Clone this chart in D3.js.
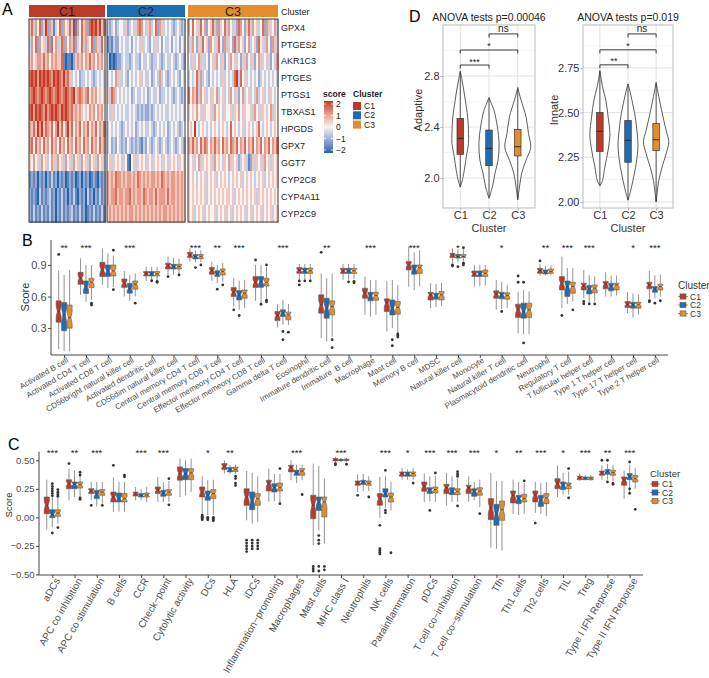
<!DOCTYPE html>
<html><head><meta charset="utf-8">
<script src="https://cdn.jsdelivr.net/npm/d3@7"></script>
<style>body{margin:0;background:#fff} svg{font-family:"Liberation Sans",Arial,sans-serif}</style>
</head><body><svg id="c" width="709" height="678"></svg>
<script>
// ---------------- DATA ----------------
const clusters = ["C1","C2","C3"];
const genes = ["GPX4","PTGES2","AKR1C3","PTGES","PTGS1","TBXAS1","HPGDS","GPX7","GGT7","CYP2C8","CYP4A11","CYP2C9"];
// heatmap z-scores coded as digits 0..8  ->  -2 .. +2 (step 0.5)
const heatC1 = [
"57364725826315472645738164756278786857",
"36472645372746357264637254736547265374",
"56456657564656557101102565646575646564",
"78786878787687876867534342334343234343",
"67876787678767876787678567656746564545",
"78687876867878768787675656545465646564",
"65758685765746857468574657465746574657",
"67475647564756475647564756475647564756",
"54645364534653645364536453645364536453",
"12120212021312021201212012021201210212",
"21210312123120213120213102120312021312",
"21312131213120213121231213120121312131"];
const heatC2 = [
"323423443523435676435634726534343234323",
"121322434334243435343243534243342434243",
"301012234332343324334323343234334323432",
"343463534324343453433423436343234343243",
"537634343434234334342343342334343234323",
"435343434334343232322323434343343434343",
"343434323434342343433432343434234343234",
"342324323243232321324323432343234323432",
"453545435410453545435435454354354543545",
"656576656566565765656566565765656656565",
"656675665667565665765665756665756656565",
"565656565656656565656565656566565656565"];
const heatC3 = [
"647453746245736254736435276425736453472635463",
"536425374526453742635427364524634527453642635",
"435346353424536435243645342536435246354352436",
"343473634324343435343437837453434342343434343",
"746573645343546345343643524634534363453435434",
"545464535445364543544535464354453645354546354",
"454843454343454345434745434534543457434543454",
"657564757646575647564765746574657465746574657",
"545346354545364543546354523453125354536453545",
"545434545345453454543454545345454345453454545",
"545454545345454545455453454545454535454545454",
"545345453454453454534534545453453454534545345"];
const scoreTicks = [2,1,0,-1,-2];

// Panel D : [min, q1, median, q3, max] and violin profiles [value, relative half-width]
const dAdaptive = [[1.93,2.186,2.311,2.468,2.83],[1.85,2.097,2.233,2.376,2.63],[1.83,2.173,2.246,2.382,2.70]];
const dInnate   = [[2.09,2.283,2.395,2.50,2.73],[2.01,2.222,2.345,2.455,2.66],[2.00,2.287,2.348,2.438,2.66]];
const vAdaptive = [
 [[1.93,0],[1.97,0.13],[2.06,0.31],[2.17,0.47],[2.27,0.64],[2.35,0.64],[2.48,0.57],[2.61,0.39],[2.69,0.27],[2.77,0.13],[2.84,0]],
 [[1.84,0],[1.93,0.26],[2.04,0.47],[2.14,0.70],[2.27,0.78],[2.40,0.65],[2.53,0.39],[2.58,0.2],[2.63,0]],
 [[1.83,0],[1.93,0.13],[2.04,0.31],[2.14,0.64],[2.24,1.0],[2.35,0.83],[2.48,0.64],[2.61,0.26],[2.66,0.12],[2.71,0]]];
const vInnate = [
 [[2.09,0],[2.12,0.21],[2.195,0.39],[2.29,0.65],[2.38,0.79],[2.476,0.65],[2.57,0.47],[2.645,0.21],[2.735,0]],
 [[2.01,0],[2.06,0.2],[2.12,0.39],[2.216,0.65],[2.31,0.79],[2.38,0.73],[2.476,0.57],[2.57,0.31],[2.62,0.15],[2.66,0]],
 [[2.0,0],[2.05,0.08],[2.12,0.21],[2.195,0.47],[2.27,0.79],[2.336,1.0],[2.4,0.79],[2.5,0.47],[2.59,0.21],[2.63,0.1],[2.67,0]]];
const dPairs = [["C1","C2"],["C1","C3"],["C2","C3"]];
const dSigAdaptive = ["***","*","ns"];
const dSigInnate = ["**","*","ns"];
const dLevelsAdaptive = [2.886,3.004,3.13];
const dLevelsInnate = [2.767,2.851,2.94];

// Panel B
const bCells = ["Activated B cell","Activated CD4 T cell","Activated CD8 T cell","CD56bright natural killer cell","Activated dendritic cell","CD56dim natural killer cell","Central memory CD4 T cell","Central memory CD8 T cell","Effector memeory CD4 T cell","Effector memeory CD8 T cell","Gamma delta T cell","Eosinophil","Immature dendritic cell","Immature  B cell","Macrophage","Mast cell","Memory B cell","MDSC","Natural killer cell","Monocyte","Natural killer T cell","Plasmacytoid dendritic cell","Neutrophil","Regulatory T cell","T follicular helper cell","Type 1 T helper cell","Type 17 T helper cell","Type 2 T helper cell"];
const bSig = ["**","***","","***","","","***","**","***","","***","","**","","***","","***","","*","","*","","**","***","***","","*","***"];
const bC1 = [[0.10,0.357,0.458,0.559,0.85],[0.616,0.717,0.774,0.83,0.963],[0.71,0.79,0.853,0.925,1.058],[0.6,0.685,0.726,0.767,0.843],[0.748,0.796,0.815,0.837,0.884],[0.80,0.862,0.894,0.916,0.979],[0.93,0.97,0.995,1.02,1.058],[0.75,0.812,0.846,0.875,0.93],[0.505,0.6,0.64,0.685,0.774],[0.56,0.685,0.736,0.79,0.9],[0.306,0.372,0.42,0.458,0.527],[0.758,0.821,0.849,0.875,0.91],[0.205,0.442,0.52,0.616,0.82],[0.76,0.82,0.843,0.868,0.91],[0.426,0.584,0.632,0.679,0.79],[0.268,0.458,0.537,0.578,0.748],[0.695,0.853,0.9,0.932,1.074],[0.49,0.568,0.616,0.64,0.726],[0.916,0.97,0.995,1.01,1.058],[0.695,0.79,0.815,0.843,0.9],[0.474,0.584,0.622,0.654,0.758],[0.25,0.4,0.474,0.527,0.647],[0.8,0.821,0.846,0.868,0.91],[0.49,0.663,0.726,0.79,0.979],[0.584,0.663,0.704,0.726,0.853],[0.6,0.673,0.717,0.742,0.83],[0.442,0.496,0.527,0.553,0.641],[0.58,0.673,0.71,0.736,0.843]];
const bC2 = [[0.08,0.275,0.426,0.543,0.805],[0.55,0.63,0.695,0.748,0.9],[0.68,0.79,0.843,0.9,1.01],[0.559,0.632,0.679,0.726,0.805],[0.76,0.796,0.815,0.837,0.88],[0.805,0.862,0.884,0.906,0.965],[0.925,0.957,0.979,1.0,1.04],[0.726,0.79,0.815,0.846,0.9],[0.474,0.568,0.616,0.657,0.75],[0.537,0.688,0.742,0.79,0.9],[0.332,0.41,0.442,0.474,0.568],[0.76,0.82,0.845,0.87,0.91],[0.174,0.395,0.49,0.584,0.774],[0.76,0.82,0.843,0.868,0.91],[0.41,0.559,0.606,0.64,0.758],[0.3,0.426,0.49,0.568,0.758],[0.66,0.812,0.862,0.9,1.02],[0.5,0.575,0.606,0.632,0.72],[0.925,0.965,0.98,1.0,1.05],[0.7,0.79,0.815,0.843,0.9],[0.48,0.578,0.616,0.641,0.74],[0.24,0.395,0.458,0.537,0.663],[0.8,0.815,0.83,0.853,0.89],[0.53,0.6,0.695,0.748,0.87],[0.537,0.625,0.673,0.704,0.805],[0.6,0.654,0.695,0.726,0.8],[0.4,0.49,0.521,0.546,0.63],[0.58,0.64,0.673,0.695,0.8]];
const bC3 = [[0.08,0.30,0.40,0.52,0.85],[0.57,0.685,0.736,0.774,0.9],[0.69,0.796,0.843,0.9,0.99],[0.6,0.67,0.717,0.748,0.82],[0.755,0.796,0.815,0.837,0.88],[0.81,0.862,0.884,0.906,0.96],[0.93,0.96,0.982,1.0,1.04],[0.74,0.805,0.837,0.862,0.92],[0.49,0.584,0.632,0.663,0.76],[0.58,0.70,0.735,0.774,0.88],[0.33,0.379,0.426,0.452,0.53],[0.76,0.82,0.845,0.87,0.91],[0.22,0.426,0.505,0.559,0.82],[0.765,0.82,0.845,0.868,0.91],[0.426,0.565,0.61,0.64,0.758],[0.25,0.433,0.496,0.553,0.71],[0.695,0.82,0.875,0.9,1.04],[0.51,0.568,0.616,0.648,0.73],[0.93,0.97,0.98,1.0,1.05],[0.705,0.79,0.821,0.852,0.9],[0.49,0.575,0.61,0.635,0.71],[0.245,0.4,0.474,0.537,0.647],[0.805,0.821,0.837,0.862,0.9],[0.555,0.632,0.695,0.736,0.87],[0.553,0.635,0.679,0.71,0.79],[0.61,0.663,0.71,0.726,0.8],[0.43,0.49,0.527,0.546,0.62],[0.6,0.663,0.695,0.717,0.81]];
const bOut = [[0,0,1.0],[1,2,0.537],[1,2,0.52],[2,2,1.04],[2,2,0.665],[3,2,0.537],[4,1,0.75],[4,2,0.736],[4,2,0.745],[5,0,0.79],[5,2,0.805],[6,1,0.875],[6,2,0.9],[7,1,0.67],[7,2,0.71],[8,0,0.474],[8,1,0.42],[9,0,0.947],[9,1,0.527],[9,2,0.9],[9,2,0.565],[9,2,0.55],[10,1,0.268],[10,1,0.19],[10,2,0.262],[11,0,0.748],[11,0,0.71],[11,1,0.748],[11,2,0.748],[12,0,1.02],[12,2,0.19],[12,2,0.115],[13,1,0.74],[13,2,0.73],[13,2,0.745],[15,1,0.19],[15,1,0.133],[15,2,0.245],[15,2,0.23],[15,2,0.215],[18,0,0.9],[18,0,0.89],[18,1,0.884],[18,2,1.064],[18,2,0.916],[18,2,0.9],[20,1,0.458],[21,0,0.795],[21,0,0.736],[21,1,0.736],[21,1,0.16],[22,0,0.938],[23,0,0.42],[23,2,0.474],[24,0,0.553],[24,0,0.531],[24,1,0.53],[24,2,0.53],[27,0,0.56],[27,0,0.55],[27,1,0.537],[27,2,0.56]];

// Panel C
const cCells = ["aDCs","APC co inhibition","APC co stimulation","B cells","CCR","Check\u2212point","Cytolytic activity","DCs","HLA","iDCs","Inflammation\u2212promoting","Macrophages","Mast cells","MHC class I","Neutrophils","NK cells","Parainflammation","pDCs","T cell co\u2212inhibition","T cell co\u2212stimulation","Tfh","Th1 cells","Th2 cells","TIL","Treg","Type I IFN Reponse","Type II IFN Reponse"];
const cSig = ["***","**","***","","***","***","","*","**","","","***","","***","","***","*","***","***","***","*","**","***","*","***","**","***"];
const cC1 = [[-0.108,0.032,0.105,0.178,0.33],[0.149,0.251,0.295,0.33,0.427],[0.15,0.208,0.231,0.251,0.31],[0.047,0.135,0.178,0.222,0.35],[0.15,0.187,0.208,0.222,0.266],[0.135,0.208,0.237,0.266,0.354],[0.178,0.325,0.383,0.442,0.515],[0.032,0.178,0.222,0.266,0.36],[0.383,0.418,0.447,0.471,0.5],[-0.026,0.105,0.178,0.251,0.406],[0.135,0.231,0.295,0.325,0.427],[0.325,0.398,0.436,0.456,0.5],[-0.246,-0.012,0.105,0.193,0.47],[0.48,0.494,0.506,0.515,0.53],[0.222,0.281,0.301,0.319,0.377],[-0.003,0.105,0.164,0.208,0.354],[0.33,0.36,0.383,0.398,0.43],[0.135,0.228,0.272,0.31,0.383],[0.105,0.208,0.26,0.289,0.39],[0.135,0.208,0.26,0.281,0.36],[-0.266,-0.02,0.085,0.164,0.389],[0.03,0.126,0.193,0.231,0.33],[0.04,0.135,0.193,0.231,0.31],[0.178,0.251,0.295,0.339,0.456],[0.32,0.33,0.348,0.36,0.383],[0.33,0.368,0.389,0.406,0.456],[0.164,0.281,0.325,0.354,0.41]];
const cC2 = [[-0.085,-0.003,0.026,0.067,0.18],[0.178,0.251,0.289,0.31,0.412],[0.096,0.164,0.202,0.237,0.31],[0.05,0.135,0.164,0.213,0.31],[0.15,0.178,0.193,0.208,0.25],[0.135,0.184,0.213,0.237,0.31],[0.193,0.33,0.383,0.427,0.5],[0.02,0.149,0.193,0.231,0.325],[0.377,0.398,0.418,0.436,0.46],[-0.056,0.067,0.143,0.222,0.39],[0.14,0.222,0.26,0.295,0.38],[0.3,0.368,0.389,0.412,0.46],[-0.114,0.061,0.135,0.178,0.45],[0.485,0.497,0.502,0.508,0.52],[0.23,0.287,0.31,0.325,0.38],[0.08,0.178,0.208,0.251,0.36],[0.33,0.36,0.38,0.398,0.42],[0.14,0.208,0.237,0.26,0.36],[0.135,0.199,0.228,0.26,0.36],[0.15,0.184,0.228,0.251,0.31],[-0.275,-0.07,0.032,0.114,0.32],[0.02,0.12,0.164,0.193,0.31],[0.03,0.096,0.149,0.193,0.3],[0.2,0.243,0.281,0.31,0.39],[0.325,0.33,0.342,0.354,0.37],[0.33,0.377,0.404,0.418,0.47],[0.22,0.33,0.36,0.383,0.46]];
const cC3 = [[-0.056,0.009,0.038,0.067,0.17],[0.18,0.256,0.286,0.31,0.39],[0.12,0.193,0.222,0.243,0.31],[0.05,0.135,0.164,0.21,0.31],[0.135,0.178,0.196,0.213,0.266],[0.135,0.193,0.222,0.243,0.32],[0.222,0.33,0.389,0.427,0.515],[0.02,0.164,0.208,0.243,0.33],[0.38,0.402,0.42,0.44,0.46],[-0.04,0.105,0.164,0.208,0.36],[0.13,0.231,0.26,0.3,0.38],[0.325,0.368,0.406,0.427,0.46],[-0.23,0.003,0.135,0.178,0.34],[0.485,0.497,0.503,0.51,0.52],[0.23,0.281,0.298,0.319,0.36],[0.06,0.135,0.178,0.213,0.31],[0.33,0.36,0.383,0.398,0.43],[0.135,0.213,0.243,0.266,0.36],[0.135,0.199,0.228,0.251,0.34],[0.09,0.193,0.231,0.26,0.33],[-0.29,-0.026,0.067,0.143,0.32],[0.03,0.135,0.164,0.202,0.3],[0.01,0.12,0.17,0.208,0.31],[0.2,0.251,0.281,0.301,0.4],[0.32,0.33,0.342,0.354,0.37],[0.32,0.368,0.392,0.412,0.46],[0.25,0.31,0.339,0.368,0.43]];
const cOut = [[0,1,0.295],[0,1,0.27],[0,1,0.25],[0,1,0.23],[0,1,0.21],[0,1,0.19],[0,1,-0.137],[0,2,0.243],[0,2,0.22],[0,2,0.2],[0,2,0.185],[0,2,-0.09],[1,0,0.471],[1,2,0.395],[1,2,0.37],[1,2,0.17],[1,2,0.158],[2,0,0.105],[2,2,0.105],[3,0,0.456],[3,2,0.37],[3,2,0.355],[5,2,0.339],[5,2,0.11],[7,0,0.02],[7,0,0.01],[7,0,0.0],[7,0,-0.01],[7,0,-0.02],[7,1,0.0],[7,1,-0.01],[7,1,-0.02],[7,2,0.0],[7,2,-0.01],[7,2,-0.02],[7,2,-0.03],[8,2,0.36],[8,2,0.34],[8,2,0.3],[8,2,0.28],[9,0,-0.2],[9,0,-0.225],[9,0,-0.25],[9,0,-0.275],[9,0,-0.3],[9,1,-0.2],[9,1,-0.225],[9,1,-0.25],[9,1,-0.275],[9,2,-0.2],[9,2,-0.225],[9,2,-0.25],[9,2,-0.275],[10,2,0.427],[10,2,0.12],[11,2,0.2],[12,0,-0.43],[12,0,-0.45],[12,0,-0.47],[12,1,-0.16],[12,1,-0.2],[12,1,-0.23],[12,1,-0.43],[12,1,-0.47],[12,2,-0.43],[12,2,-0.46],[13,0,0.47],[13,0,0.46],[13,2,0.465],[14,0,0.193],[14,2,0.178],[15,0,-0.07],[15,0,-0.275],[15,0,-0.29],[15,0,-0.305],[15,0,-0.32],[15,1,0.412],[15,1,0.061],[15,1,0.04],[15,2,-0.31],[16,2,0.30],[17,1,0.061],[17,2,0.389],[18,2,0.4],[18,2,0.38],[18,2,0.36],[18,2,0.1],[19,2,0.032],[21,2,0.32],[22,0,-0.05],[23,2,0.427],[23,2,0.17],[25,0,0.5],[25,1,0.5],[25,1,0.31],[25,2,0.3],[25,2,0.29],[26,1,0.485],[26,1,0.25],[26,1,0.21],[26,2,0.07]];

// ---------------- STYLE ----------------
const colors = ["#BD3A2B","#1E6DB2","#E48D2D"];
const txt = "#333";
const svg = d3.select("#c");
function label(x,y,t,size,opts={}){
  const e = svg.append("text").attr("x",x).attr("y",y).attr("font-size",size).attr("fill",opts.fill||txt).text(t);
  if(opts.anchor) e.attr("text-anchor",opts.anchor);
  if(opts.weight) e.attr("font-weight",opts.weight);
  if(opts.rotate!==undefined) e.attr("transform",`rotate(${opts.rotate},${x},${y})`);
  return e;
}

// ---------------- PANEL A : heatmap ----------------
label(2,15,"A",16,{fill:"#000"});
const rowY = d3.scaleBand().domain(genes).range([19,222]);
const heatColor = d3.scaleLinear().domain([-2,0,2]).range(["#1f66ae","#f7f4f3","#c43b2b"]).interpolate(d3.interpolateLab).clamp(true);
const blockX = [[29,105],[107,185],[188,278]];
[heatC1,heatC2,heatC3].forEach((rows,k)=>{
  const n = rows[0].length;
  const colX = d3.scaleBand().domain(d3.range(n)).range(blockX[k]);
  const cells = [];
  rows.forEach((s,r)=>{ for(let j=0;j<s.length;j++) cells.push({g:genes[r],j,v:-2+0.5*(+s[j])}); });
  svg.append("g").attr("shape-rendering","crispEdges").selectAll("rect").data(cells).join("rect")
    .attr("x",d=>colX(d.j)).attr("y",d=>rowY(d.g))
    .attr("width",colX.bandwidth()+0.5).attr("height",rowY.bandwidth()+0.5)
    .attr("fill",d=>heatColor(d.v));
  svg.append("rect").attr("x",blockX[k][0]).attr("y",19).attr("width",blockX[k][1]-blockX[k][0]).attr("height",203)
    .attr("fill","none").attr("stroke","#3a3a3a").attr("stroke-width",1);
  svg.append("rect").attr("x",blockX[k][0]).attr("y",5).attr("width",blockX[k][1]-blockX[k][0]).attr("height",12).attr("fill",colors[k]);
  label((blockX[k][0]+blockX[k][1])/2,15.5,clusters[k],12.5,{anchor:"middle",fill:"#222"});
});
label(281,14.5,"Cluster",9,{fill:"#222"});
genes.forEach(g=>label(281,rowY(g)+rowY.bandwidth()/2+3.2,g,9,{fill:"#222"}));
// score legend
label(323,97,"score",8.5,{weight:"bold",fill:"#222"});
const defs = svg.append("defs");
const grad = defs.append("linearGradient").attr("id","sg").attr("x1",0).attr("x2",0).attr("y1",0).attr("y2",1);
d3.range(0,1.0001,0.1).forEach(t=>grad.append("stop").attr("offset",t).attr("stop-color",heatColor(2-4*t)));
const legY = d3.scaleLinear().domain([-2,2]).range([150,104]);
svg.append("rect").attr("x",324).attr("y",101).attr("width",9).attr("height",52).attr("fill","url(#sg)");
scoreTicks.forEach(t=>{
  svg.append("line").attr("x1",324).attr("x2",326).attr("y1",legY(t)).attr("y2",legY(t)).attr("stroke","#fff").attr("stroke-width",0.8);
  svg.append("line").attr("x1",331).attr("x2",333).attr("y1",legY(t)).attr("y2",legY(t)).attr("stroke","#fff").attr("stroke-width",0.8);
  label(336,legY(t)+3,t<0?"\u2212"+Math.abs(t):String(t),8.5,{fill:"#222"});
});
label(353,97,"Cluster",8.5,{weight:"bold",fill:"#222"});
clusters.forEach((c,k)=>{
  svg.append("rect").attr("x",353).attr("y",102+k*9.3).attr("width",8).attr("height",8).attr("fill",colors[k]);
  label(364,109+k*9.3,c,8.5,{fill:"#222"});
});

// ---------------- PANEL D : violins ----------------
label(409,22,"D",16,{fill:"#000"});
function violinPanel(x0,x1,domain,ticks,minor,fmt,yTitle,title,stats,prof,sig,levels,titleX){
  const x = d3.scalePoint().domain(clusters).range([x0,x1]).padding(0.6);
  const y = d3.scaleLinear().domain(domain).range([208,25]);
  const g = svg.append("g");
  minor.forEach(v=>g.append("line").attr("x1",x0).attr("x2",x1).attr("y1",y(v)).attr("y2",y(v)).attr("stroke","#efefef").attr("stroke-width",0.6));
  ticks.forEach(v=>g.append("line").attr("x1",x0).attr("x2",x1).attr("y1",y(v)).attr("y2",y(v)).attr("stroke","#dedede").attr("stroke-width",0.9));
  clusters.forEach(c=>g.append("line").attr("x1",x(c)).attr("x2",x(c)).attr("y1",25).attr("y2",208).attr("stroke","#dedede").attr("stroke-width",0.9));
  g.append("rect").attr("x",x0).attr("y",25).attr("width",x1-x0).attr("height",183).attr("fill","none").attr("stroke","#b3b3b3").attr("stroke-width",0.9);
  const ax = svg.append("g").attr("transform",`translate(${x0},0)`).call(d3.axisLeft(y).tickValues(ticks).tickSize(2.5).tickFormat(fmt));
  ax.select(".domain").remove();
  ax.selectAll("line").attr("stroke","#b3b3b3");
  ax.selectAll("text").attr("font-size",11).attr("fill",txt).attr("font-family","Liberation Sans, Arial, sans-serif").attr("x",-3.5);
  const axb = svg.append("g").attr("transform","translate(0,208)").call(d3.axisBottom(x).tickSize(2.5));
  axb.select(".domain").remove();
  axb.selectAll("line").attr("stroke","#b3b3b3");
  axb.selectAll("text").attr("font-size",11).attr("fill",txt).attr("font-family","Liberation Sans, Arial, sans-serif").attr("y",3).attr("dy","0.71em");
  label((x0+x1)/2,232,"Cluster",11,{anchor:"middle"});
  label(titleX,110,yTitle,11,{anchor:"middle",rotate:-90});
  label((x0+x1)/2,21,title,10.5,{anchor:"middle",fill:"#222"});
  const hw = 0.45*x.step();
  clusters.forEach((c,k)=>{
    const cx = x(c);
    const area = d3.area().y(d=>y(d[0])).x0(d=>cx-d[1]*hw).x1(d=>cx+d[1]*hw).curve(d3.curveCatmullRom);
    g.append("path").attr("d",area(prof[k])).attr("fill","#fff").attr("stroke","#4a4a4a").attr("stroke-width",0.9);
    const s = stats[k];
    g.append("line").attr("x1",cx).attr("x2",cx).attr("y1",y(s[0])).attr("y2",y(s[4])).attr("stroke","#333").attr("stroke-width",0.9);
    const bw = 6.5;
    g.append("rect").attr("x",cx-bw/2).attr("y",y(s[3])).attr("width",bw).attr("height",y(s[1])-y(s[3])).attr("fill",colors[k]).attr("stroke","#333").attr("stroke-width",0.7);
    g.append("line").attr("x1",cx-bw/2).attr("x2",cx+bw/2).attr("y1",y(s[2])).attr("y2",y(s[2])).attr("stroke","#222").attr("stroke-width",0.9);
  });
  dPairs.forEach((p,i)=>{
    const yy = y(levels[i]);
    g.append("path").attr("d",`M${x(p[0])},${yy+3.5}V${yy}H${x(p[1])}V${yy+3.5}`).attr("fill","none").attr("stroke","#222").attr("stroke-width",0.9);
    label((x(p[0])+x(p[1]))/2, yy-(sig[i]==="ns"?2:0.5), sig[i], sig[i]==="ns"?10:9,{anchor:"middle",fill:"#222"});
  });
}
violinPanel(443,535,[1.765,3.2],[2.0,2.4,2.8],[2.2,2.6,3.0],d3.format(".1f"),"Adaptive","ANOVA tests p=0.00046",dAdaptive,vAdaptive,dSigAdaptive,dLevelsAdaptive,422);
violinPanel(583,673,[1.966,2.99],[2.0,2.25,2.5,2.75],[2.125,2.375,2.625,2.875],d3.format(".2f"),"Innate","ANOVA tests p=0.019",dInnate,vInnate,dSigInnate,dLevelsInnate,558);

// ---------------- PANELS B & C : boxplots ----------------
function boxPanel(cats,stats,outs,sig,xr,yDom,yr,ticks,fmt,tickFont,sigY,labAngle,labFont,labY,notchFrac){
  const x = d3.scalePoint().domain(cats).range(xr).padding(0.6);
  const y = d3.scaleLinear().domain(yDom).range(yr);
  const st = x.step();
  const dodge = d3.scaleBand().domain(clusters).range([-0.375*st,0.375*st]);
  const bw = dodge.bandwidth()-0.4;
  const g = svg.append("g");
  const ay = svg.append("g").attr("transform",`translate(${xr[0]},0)`).call(d3.axisLeft(y).tickValues(ticks).tickSize(3).tickSizeOuter(0).tickFormat(fmt));
  ay.select(".domain").attr("stroke","#444").attr("d",`M0,${yr[1]}V${yr[0]}`);
  ay.selectAll(".tick line").attr("stroke","#444");
  ay.selectAll("text").attr("font-size",tickFont).attr("fill","#4d4d4d").attr("font-family","Liberation Sans, Arial, sans-serif").attr("x",-4.5);
  const axx = svg.append("g").attr("transform",`translate(0,${yr[0]})`).call(d3.axisBottom(x).tickSize(3).tickSizeOuter(0).tickFormat(""));
  axx.select(".domain").attr("stroke","#444").attr("d",`M${xr[0]},0H${xr[1]}`);
  axx.selectAll(".tick line").attr("stroke","#444");
  cats.forEach(c=>{
    svg.append("text").attr("x",0).attr("y",0).attr("text-anchor","end").attr("dy","0.7em")
      .attr("font-size",labFont).attr("fill","#4d4d4d").style("white-space","pre")
      .attr("transform",`translate(${x(c)+2},${labY}) rotate(${labAngle})`).text(c);
  });
  cats.forEach((c,i)=>{
    if(sig[i]) label(x(c),sigY,sig[i],9.5,{anchor:"middle",fill:"#222"});
    clusters.forEach((cl,k)=>{
      const s = stats[k][i];
      const cx = x(c)+dodge(cl)+dodge.bandwidth()/2;
      g.append("line").attr("x1",cx).attr("x2",cx).attr("y1",y(s[0])).attr("y2",y(s[1])).attr("stroke","#777").attr("stroke-width",0.8);
      g.append("line").attr("x1",cx).attr("x2",cx).attr("y1",y(s[3])).attr("y2",y(s[4])).attr("stroke","#777").attr("stroke-width",0.8);
      const iqr = s[3]-s[1], nt = notchFrac*iqr;
      const L = cx-bw/2, R = cx+bw/2, Li = cx-bw/4, Ri = cx+bw/4;
      const d = `M${L},${y(s[3])}H${R}V${y(s[2]+nt)}L${Ri},${y(s[2])}L${R},${y(s[2]-nt)}V${y(s[1])}H${L}V${y(s[2]-nt)}L${Li},${y(s[2])}L${L},${y(s[2]+nt)}Z`;
      g.append("path").attr("d",d).attr("fill",colors[k]).attr("stroke","#5a5a5a").attr("stroke-width",0.6);
      g.append("line").attr("x1",Li).attr("x2",Ri).attr("y1",y(s[2])).attr("y2",y(s[2])).attr("stroke","#3a3a3a").attr("stroke-width",0.8);
    });
  });
  outs.forEach(o=>{
    const cx = x(cats[o[0]])+dodge(clusters[o[1]])+dodge.bandwidth()/2;
    g.append("circle").attr("cx",cx).attr("cy",y(o[2])).attr("r",1.4).attr("fill","#333");
  });
}
function boxLegend(x0,yTitle,ys,titleSize,labSize){
  label(x0,yTitle,"Cluster",titleSize,{fill:"#333"});
  clusters.forEach((c,k)=>{
    const yy = ys[k];
    svg.append("line").attr("x1",x0).attr("x2",x0+10).attr("y1",yy).attr("y2",yy).attr("stroke","#777").attr("stroke-width",0.8);
    svg.append("rect").attr("x",x0+2).attr("y",yy-2.6).attr("width",6).attr("height",5.2).attr("fill",colors[k]).attr("stroke","#5a5a5a").attr("stroke-width",0.6);
    label(x0+12,yy+3,c,labSize,{fill:"#333"});
  });
}
label(22,246,"B",16,{fill:"#000"});
boxPanel(bCells,[bC1,bC2,bC3],bOut,bSig,[51,668],[0.045,1.137],[355,240],[0.3,0.6,0.9],d3.format(".1f"),11,250.5,-30,8,357,0.25);
label(29,297,"Score",11,{anchor:"middle",rotate:-90,fill:"#333"});
boxLegend(678,289,[296.5,305,313.5],10,8.5);

label(8,450,"C",16,{fill:"#000"});
boxPanel(cCells,[cC1,cC2,cC3],cOut,cSig,[39,643],[-0.505,0.575],[575,451.7],[-0.5,-0.25,0,0.25,0.5],v=>d3.format(".2f")(v).replace("-","\u2212"),9.5,455.5,-60,10,577,0.25);
label(12,505,"Score",9.5,{anchor:"middle",rotate:-90,fill:"#333"});
boxLegend(650,477,[484,492.5,501],9.5,8.5);
</script></body></html>
